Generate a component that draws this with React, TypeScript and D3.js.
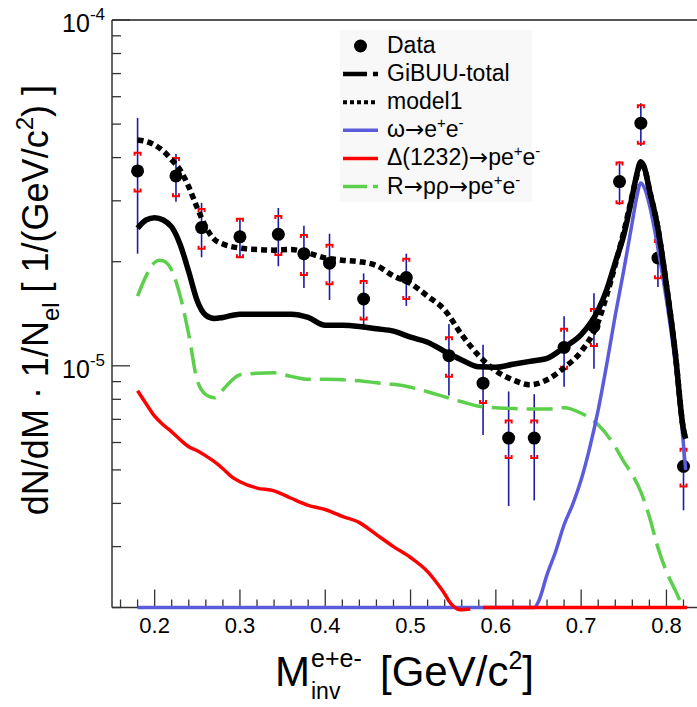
import React from 'react';
import * as d3 from 'd3';

const W = 697;
const H = 707;
const FONT = "'Liberation Sans', Arial, Helvetica, sans-serif";
const ARROW_FONT = "'DejaVu Sans', sans-serif";

// ---- axes ----
const xDomain = [0.15, 0.85];
const yDomain = [2e-6, 1e-4];
const xTickLabels = [0.2, 0.3, 0.4, 0.5, 0.6, 0.7, 0.8];
const yDecadeLabels = [{ v: 1e-4, exp: '-4' }, { v: 1e-5, exp: '-5' }];

// ---- data points ----
const dataM = [0.18, 0.225, 0.255, 0.30, 0.345, 0.375, 0.405, 0.445, 0.495, 0.545, 0.585, 0.615, 0.645, 0.68, 0.715, 0.745, 0.77, 0.79, 0.82];
const dataY = [3.66e-5, 3.54e-5, 2.51e-5, 2.36e-5, 2.40e-5, 2.11e-5, 1.98e-5, 1.56e-5, 1.80e-5, 1.07e-5, 8.91e-6, 6.18e-6, 6.18e-6, 1.13e-5, 1.30e-5, 3.41e-5, 5.03e-5, 2.05e-5, 5.12e-6];
const statErr = [1.55e-5, 0.56e-5, 0.45e-5, 0.31e-5, 0.46e-5, 0.43e-5, 0.43e-5, 0.29e-5, 0.31e-5, 0.25e-5, 2.6e-6, 2.25e-6, 2.1e-6, 0.26e-5, 0.32e-5, 0.49e-5, 0.71e-5, 0.36e-5, 1.3e-6];
const sysErr = [0.47e-5, 0.45e-5, 0.33e-5, 0.30e-5, 0.31e-5, 0.28e-5, 0.26e-5, 0.20e-5, 0.24e-5, 0.14e-5, 1.1e-6, 0.77e-6, 0.77e-6, 0.15e-5, 0.16e-5, 0.46e-5, 0.64e-5, 0.26e-5, 0.64e-6];

// ---- GiBUU total ----
const gibuuM = [0.18, 0.19, 0.20, 0.21, 0.22, 0.23, 0.24, 0.25, 0.26, 0.27, 0.28, 0.30, 0.32, 0.34, 0.36, 0.38, 0.40, 0.42, 0.44, 0.46, 0.48, 0.50, 0.52, 0.54, 0.56, 0.58, 0.60, 0.62, 0.64, 0.66, 0.68, 0.70, 0.72, 0.73, 0.74, 0.75, 0.76, 0.765, 0.77, 0.775, 0.78, 0.79, 0.80, 0.81, 0.82, 0.8225];
const gibuuY = [2.50e-5, 2.64e-5, 2.68e-5, 2.64e-5, 2.52e-5, 2.24e-5, 1.87e-5, 1.54e-5, 1.40e-5, 1.37e-5, 1.38e-5, 1.41e-5, 1.41e-5, 1.41e-5, 1.41e-5, 1.38e-5, 1.31e-5, 1.31e-5, 1.30e-5, 1.28e-5, 1.26e-5, 1.21e-5, 1.17e-5, 1.10e-5, 1.04e-5, 9.93e-6, 9.90e-6, 1.01e-5, 1.03e-5, 1.05e-5, 1.13e-5, 1.23e-5, 1.45e-5, 1.66e-5, 1.99e-5, 2.39e-5, 3.10e-5, 3.56e-5, 3.89e-5, 3.68e-5, 3.23e-5, 2.50e-5, 1.71e-5, 1.11e-5, 6.53e-6, 6.15e-6];

// ---- model1 ----
const model1M = gibuuM;
const model1Y = [4.50e-5, 4.45e-5, 4.35e-5, 4.18e-5, 3.94e-5, 3.68e-5, 3.29e-5, 2.86e-5, 2.52e-5, 2.32e-5, 2.25e-5, 2.19e-5, 2.17e-5, 2.16e-5, 2.17e-5, 2.12e-5, 2.05e-5, 2.02e-5, 2.00e-5, 1.95e-5, 1.82e-5, 1.73e-5, 1.59e-5, 1.45e-5, 1.23e-5, 1.07e-5, 9.67e-6, 9.11e-6, 8.81e-6, 9.11e-6, 9.87e-6, 1.10e-5, 1.34e-5, 1.60e-5, 1.96e-5, 2.44e-5, 3.12e-5, 3.52e-5, 3.87e-5, 3.68e-5, 3.23e-5, 2.50e-5, 1.71e-5, 1.11e-5, 6.53e-6, 6.15e-6];

// ---- omega -> e+e- ----
const omegaM = [0.18, 0.645, 0.65, 0.66, 0.67, 0.68, 0.69, 0.70, 0.71, 0.72, 0.73, 0.74, 0.75, 0.76, 0.765, 0.77, 0.775, 0.78, 0.79, 0.80, 0.81, 0.82, 0.8225];
const omegaY = [0, 0, 2.08e-6, 2.49e-6, 2.90e-6, 3.47e-6, 3.97e-6, 4.68e-6, 5.79e-6, 7.46e-6, 1.01e-5, 1.40e-5, 1.89e-5, 2.61e-5, 3.06e-5, 3.38e-5, 3.23e-5, 2.92e-5, 2.19e-5, 1.55e-5, 1.03e-5, 5.91e-6, 5.0e-6];

// ---- Delta(1232) -> p e+e- ----
const deltaM = [0.18, 0.19, 0.20, 0.21, 0.22, 0.23, 0.24, 0.25, 0.26, 0.27, 0.28, 0.29, 0.30, 0.32, 0.34, 0.36, 0.38, 0.40, 0.42, 0.44, 0.46, 0.48, 0.50, 0.52, 0.53, 0.54, 0.545, 0.55, 0.555, 0.56, 0.57, 0.58, 0.585, 0.824];
const deltaY = [8.47e-6, 7.77e-6, 7.15e-6, 6.75e-6, 6.44e-6, 6.11e-6, 5.83e-6, 5.68e-6, 5.49e-6, 5.28e-6, 5.04e-6, 4.78e-6, 4.62e-6, 4.43e-6, 4.35e-6, 4.14e-6, 3.95e-6, 3.84e-6, 3.67e-6, 3.52e-6, 3.25e-6, 3.00e-6, 2.79e-6, 2.54e-6, 2.37e-6, 2.19e-6, 2.09e-6, 2.02e-6, 1.98e-6, 1.97e-6, 1.98e-6, NaN, 0, 0];

// ---- R -> p rho -> p e+e- ----
const rM = [0.18, 0.19, 0.20, 0.205, 0.21, 0.22, 0.23, 0.24, 0.25, 0.255, 0.26, 0.27, 0.28, 0.29, 0.30, 0.32, 0.34, 0.36, 0.38, 0.40, 0.42, 0.44, 0.46, 0.48, 0.50, 0.52, 0.54, 0.56, 0.58, 0.60, 0.62, 0.64, 0.66, 0.68, 0.70, 0.72, 0.74, 0.75, 0.76, 0.77, 0.78, 0.79, 0.80, 0.81, 0.82, 0.8225];
const rY = [1.59e-5, 1.82e-5, 1.99e-5, 2.02e-5, 2.01e-5, 1.89e-5, 1.59e-5, 1.23e-5, 9.05e-6, 8.52e-6, 8.25e-6, 8.08e-6, 8.52e-6, 9.05e-6, 9.42e-6, 9.51e-6, 9.54e-6, 9.32e-6, 9.14e-6, 9.14e-6, 9.11e-6, 9.05e-6, 8.93e-6, 8.84e-6, 8.67e-6, 8.41e-6, 8.13e-6, 7.87e-6, 7.64e-6, 7.56e-6, 7.52e-6, 7.50e-6, 7.50e-6, 7.56e-6, 7.29e-6, 6.75e-6, 5.83e-6, 5.28e-6, 4.84e-6, 4.32e-6, 3.66e-6, 2.98e-6, 2.54e-6, 2.25e-6, 2.02e-6, 2.0e-6];

// ---- colours ----
const C_BLUE = '#5b5bdc';
const C_RED = '#ff0000';
const C_GREEN = '#5ccf4c';
const C_STAT = '#1c1ca6';
const C_AXIS = '#333333';

const X0 = 112;
const PX_PER_UNIT = 853;
const Y_TOP = 20;
const Y_BOT = 607.5;

const Arrow = () => <tspan fontFamily={ARROW_FONT}>→</tspan>;
const EE = () => (
  <>
    e<tspan dy={-9} fontSize={15}>+</tspan><tspan dy={9}>e</tspan><tspan dy={-9} fontSize={15}>-</tspan>
  </>
);

export default function App() {
  const x = d3.scaleLinear().domain(xDomain).range([X0, X0 + (xDomain[1] - xDomain[0]) * PX_PER_UNIT]);
  const y = d3.scaleLog().domain(yDomain).range([Y_BOT, Y_TOP]);
  const yv = (v: number) => (v > 0 ? y(v) : y(yDomain[0]));

  const mkLine = (ms: number[], vs: number[]) => {
    const pts = ms.map((m, i) => [m, vs[i]] as [number, number]);
    return d3
      .line<[number, number]>()
      .defined((d) => !Number.isNaN(d[1]))
      .x((d) => x(d[0]))
      .y((d) => yv(d[1]))
      .curve(d3.curveMonotoneX)(pts) as string;
  };

  const yTicks: { v: number; major: boolean }[] = [];
  for (let e = -6; e <= -4; e++) {
    for (let m = 1; m <= 9; m++) {
      const v = m * Math.pow(10, e);
      if (v >= yDomain[0] * 0.999 && v <= yDomain[1] * 1.001) yTicks.push({ v, major: m === 1 });
    }
  }
  const xTicks = d3.range(8, 43).map((k) => ({ v: k * 0.02, major: k % 5 === 0 }));
  const xRight = W;

  const legendRows = [
    { key: 'data', label: <>Data</> },
    { key: 'gibuu', label: <>GiBUU-total</> },
    { key: 'model1', label: <>model1</> },
    { key: 'omega', label: <>ω<Arrow /><EE /></> },
    { key: 'delta', label: <>Δ(1232)<Arrow />p<EE /></> },
    { key: 'r', label: <>R<Arrow />pρ<Arrow />p<EE /></> },
  ];
  const legY0 = 46;
  const legDy = 28.1;
  const legX1 = 343;
  const legX2 = 378;

  return (
    <svg
      width={W}
      height={H}
      style={{ position: 'absolute', left: 0, top: 0, background: '#fff' }}
      fontFamily={FONT}
    >
      <rect x={0} y={0} width={W} height={H} fill="#fff" />

      {/* legend background */}
      <rect x={340} y={30} width={192} height={172} fill="#f8f8f8" />

      {/* frame */}
      <line x1={X0} x2={xRight} y1={Y_TOP} y2={Y_TOP} stroke="#555" strokeWidth={2} />
      <line x1={X0} x2={X0} y1={Y_TOP} y2={Y_BOT} stroke={C_AXIS} strokeWidth={1.5} />
      <line x1={X0} x2={xRight} y1={Y_BOT} y2={Y_BOT} stroke={C_AXIS} strokeWidth={1.5} />

      {/* y ticks */}
      {yTicks.map((t, i) => (
        <line key={'yt' + i} x1={X0} x2={X0 + (t.major ? 18 : 9)} y1={y(t.v)} y2={y(t.v)} stroke={C_AXIS} strokeWidth={1.3} />
      ))}
      {yDecadeLabels.map((t) => (
        <text key={'yl' + t.exp} x={105} y={y(t.v) + 12} textAnchor="end" fontSize={25} fill="#000">
          10<tspan dy={-12} fontSize={17}>{t.exp}</tspan>
        </text>
      ))}

      {/* x ticks */}
      {xTicks.map((t, i) => (
        <line key={'xt' + i} x1={x(t.v)} x2={x(t.v)} y1={Y_BOT} y2={Y_BOT - (t.major ? 18 : 8)} stroke={C_AXIS} strokeWidth={1.3} />
      ))}
      {xTickLabels.map((v) => (
        <text key={'xl' + v} x={x(v)} y={633} textAnchor="middle" fontSize={22} fill="#000">
          {v.toFixed(1)}
        </text>
      ))}

      {/* axis titles */}
      <text x={275} y={686} fontSize={42} fill="#000">M</text>
      <text x={311} y={667} fontSize={25} fill="#000">e+e-</text>
      <text x={311} y={699} fontSize={23} fill="#000">inv</text>
      <text x={380} y={686} fontSize={42} fill="#000">
        [GeV/c<tspan dy={-17} fontSize={25}>2</tspan><tspan dy={17}>]</tspan>
      </text>

      <text transform="translate(48,85) rotate(-90)" textAnchor="end" fontSize={36} fill="#000">
        dN/dM · 1/N<tspan dy={11} fontSize={24}>el</tspan><tspan dy={-11}> [ 1/(GeV/c</tspan><tspan dy={-15} fontSize={24}>2</tspan><tspan dy={15}>) ]</tspan>
      </text>

      {/* data: stat errors, sys brackets, markers */}
      {dataM.map((m, i) => {
        const cx = x(m);
        const yTopS = y(dataY[i] + statErr[i]);
        const yBotS = y(Math.max(dataY[i] - statErr[i], yDomain[0]));
        const ySysT = y(dataY[i] + sysErr[i]);
        const ySysB = y(dataY[i] - sysErr[i]);
        return (
          <g key={'d' + i}>
            <line x1={cx} x2={cx} y1={yTopS} y2={yBotS} stroke={C_STAT} strokeWidth={1.6} />
            <path d={`M${cx - 3},${ySysT + 3}V${ySysT}H${cx + 3}V${ySysT + 3}`} fill="none" stroke={C_RED} strokeWidth={2} />
            <path d={`M${cx - 3},${ySysB - 3}V${ySysB}H${cx + 3}V${ySysB - 3}`} fill="none" stroke={C_RED} strokeWidth={2} />
            <circle cx={cx} cy={y(dataY[i])} r={6.5} fill="#000" />
          </g>
        );
      })}

      {/* model curves */}
      <path d={mkLine(rM, rY)} fill="none" stroke={C_GREEN} strokeWidth={3.5} strokeDasharray="26 9" />
      <path d={mkLine(omegaM, omegaY)} fill="none" stroke={C_BLUE} strokeWidth={3.5} />
      <path d={mkLine(deltaM, deltaY)} fill="none" stroke={C_RED} strokeWidth={3.5} />
      <path d={mkLine(model1M, model1Y)} fill="none" stroke="#000" strokeWidth={5.5} strokeDasharray="6 4" />
      <path d={mkLine(gibuuM, gibuuY)} fill="none" stroke="#000" strokeWidth={5.5} />

      {/* legend */}
      {legendRows.map((r, i) => {
        const ly = legY0 + i * legDy;
        let sym: React.ReactNode = null;
        if (r.key === 'data') sym = <circle cx={(legX1 + legX2) / 2} cy={ly} r={6.5} fill="#000" />;
        if (r.key === 'gibuu') sym = <line x1={legX1} x2={legX2} y1={ly} y2={ly} stroke="#000" strokeWidth={4.5} strokeDasharray="24 6 5 40" />;
        if (r.key === 'model1') sym = <line x1={legX1} x2={legX2} y1={ly} y2={ly} stroke="#000" strokeWidth={4} strokeDasharray="4 3" />;
        if (r.key === 'omega') sym = <line x1={legX1} x2={legX2} y1={ly} y2={ly} stroke={C_BLUE} strokeWidth={3.5} />;
        if (r.key === 'delta') sym = <line x1={legX1} x2={legX2} y1={ly} y2={ly} stroke={C_RED} strokeWidth={3.5} />;
        if (r.key === 'r') sym = <line x1={legX1} x2={legX2} y1={ly} y2={ly} stroke={C_GREEN} strokeWidth={3.5} strokeDasharray="24 6 5 40" />;
        return (
          <g key={'lg' + r.key}>
            {sym}
            <text x={387} y={ly + 7} fontSize={23} fill="#000">{r.label}</text>
          </g>
        );
      })}
    </svg>
  );
}
